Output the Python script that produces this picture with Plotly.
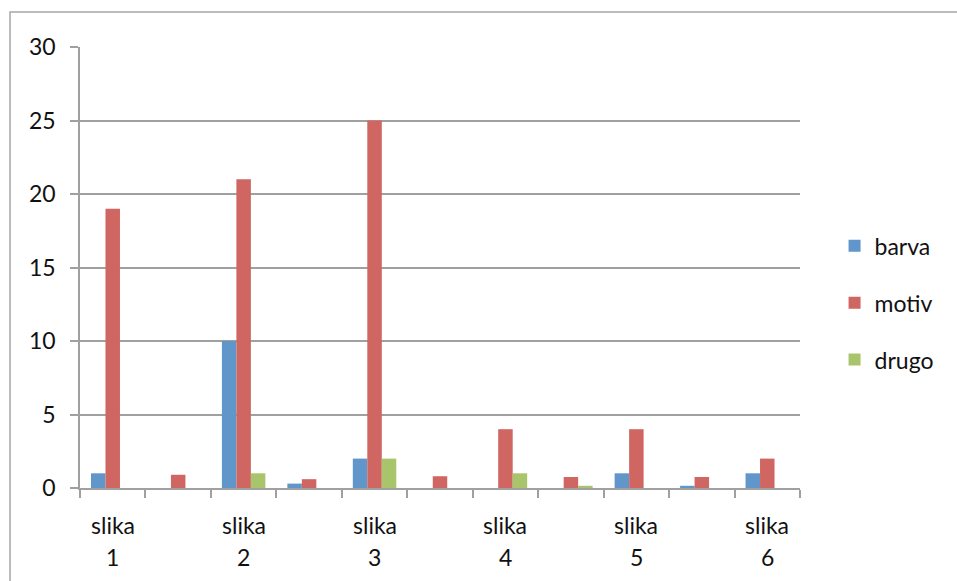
import plotly.graph_objects as go

categories = ["slika 1", "1-2", "slika 2", "2-3", "slika 3", "3-4",
              "slika 4", "4-5", "slika 5", "5-6", "slika 6"]
tick_top = ["slika", "", "slika", "", "slika", "", "slika", "", "slika", "", "slika"]
tick_bottom = ["1", "", "2", "", "3", "", "4", "", "5", "", "6"]
barva = [1, 0, 10, 0.3, 2, 0, 0, 0, 1, 0.15, 1]
motiv = [19, 0.9, 21, 0.6, 25, 0.8, 4, 0.75, 4, 0.75, 2]
drugo = [0, 0, 1, 0, 2, 0, 1, 0.15, 0, 0, 0]

series = [("barva", barva, "#6096C9"), ("motiv", motiv, "#CF6661"), ("drugo", drugo, "#A9C56B")]

FONT = "Lato, Open Sans, sans-serif"
GRAY = "#A0A0A0"
FS = 23

fig = go.Figure()
for i, (name, vals, col) in enumerate(series):
    fig.add_trace(go.Bar(x=categories, y=vals, name=name, marker_color=col,
                         marker_line_width=0, legendgroup=name))

annotations = []
for cat, top, bot in zip(categories, tick_top, tick_bottom):
    if top:
        annotations.append(dict(x=cat, xref="x", y=-0.0839, yref="paper", text=top,
                                showarrow=False, xanchor="center", yanchor="middle",
                                font=dict(size=FS, family=FONT, color="#111111")))
    if bot:
        annotations.append(dict(x=cat, xref="x", y=-0.1565, yref="paper", text=bot,
                                showarrow=False, xanchor="center", yanchor="middle",
                                font=dict(size=FS, family=FONT, color="#111111")))

fig.update_layout(
    width=957, height=581,
    margin=dict(l=80, r=157, t=47, b=93),
    paper_bgcolor="white", plot_bgcolor="white",
    barmode="group", bargap=0.336, bargroupgap=0,
    font=dict(family=FONT, size=FS, color="#111111"),
    showlegend=True,
    legend=dict(x=1.048, xanchor="left", y=0.42, yanchor="middle",
                font=dict(size=FS, family=FONT), tracegroupgap=24,
                itemwidth=30, bgcolor="rgba(0,0,0,0)"),
    xaxis=dict(type="category", tickson="boundaries", ticks="outside", ticklen=8,
               tickcolor=GRAY, tickwidth=1.5, showline=True, linecolor=GRAY, linewidth=1.5,
               showgrid=False, showticklabels=False),
    yaxis=dict(range=[0, 30], tickmode="linear", tick0=0, dtick=5, ticks="outside",
               ticklen=8, tickcolor=GRAY, tickwidth=1.5, showline=True, linecolor=GRAY,
               linewidth=1.5, showgrid=True, gridcolor=GRAY, gridwidth=1.5,
               zeroline=False, ticklabelstandoff=10, tickfont=dict(size=FS, family=FONT)),
    annotations=annotations,
    shapes=[dict(type="rect", xref="paper", yref="paper", x0=-0.0972, x1=1.4,
                 y0=-0.5, y1=1.0794, line=dict(color="#A6A6A6", width=1.5),
                 fillcolor="rgba(0,0,0,0)", layer="below")],
)

fig.write_html("out.html", config={"displayModeBar": False},
               post_script="document.body.style.margin='0';document.body.style.overflow='hidden';")
